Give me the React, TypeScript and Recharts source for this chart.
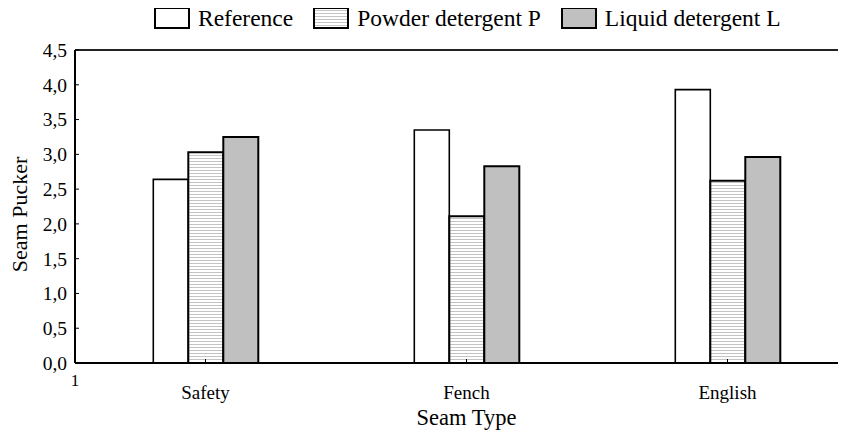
import React from 'react';
import { BarChart, Bar, XAxis, YAxis, Legend, Label } from 'recharts';

const categories = ['Safety', 'Fench', 'English'];
const referenceValues = [2.64, 3.35, 3.93];
const powderValues = [3.03, 2.11, 2.62];
const liquidValues = [3.25, 2.83, 2.96];
const yTicks = [0, 0.5, 1, 1.5, 2, 2.5, 3, 3.5, 4, 4.5];
const seriesNames = ['Reference', 'Powder detergent P', 'Liquid detergent L'];
const xAxisTitle = 'Seam Type';
const yAxisTitle = 'Seam Pucker';
const cornerTick = '1';

const data = categories.map((c, i) => ({
  seam: c,
  reference: referenceValues[i],
  powder: powderValues[i],
  liquid: liquidValues[i],
}));

const FONT = '"Liberation Serif", "Times New Roman", serif';

const swatchFills = ['#ffffff', 'url(#powderPatternLegend)', '#c0c0c0'];

const LegendContent = () => (
  <div
    style={{
      display: 'flex',
      alignItems: 'center',
      fontFamily: FONT,
      fontSize: 23.5,
      lineHeight: '22px',
      color: '#000',
      height: 22,
      whiteSpace: 'nowrap',
    }}
  >
    <svg width={0} height={0} style={{ position: 'absolute' }}>
      <defs>
        <pattern id="powderPatternLegend" width="4" height="3" patternUnits="userSpaceOnUse">
          <rect width="4" height="3" fill="#ffffff" />
          <rect width="4" height="1" fill="#c4c4c4" />
        </pattern>
      </defs>
    </svg>
    {seriesNames.map((name, i) => (
      <div key={name} style={{ display: 'flex', alignItems: 'center', marginRight: 20 }}>
        <svg width={36} height={22} style={{ display: 'block' }}>
          <rect x={1} y={1} width={34} height={20} fill={swatchFills[i]} stroke="#000" strokeWidth={2} />
        </svg>
        <span style={{ marginLeft: 8 }}>{name}</span>
      </div>
    ))}
  </div>
);

const XLabels = (props: any) => {
  const vb = props.viewBox || { x: 67, y: 355, width: 771, height: 67 };
  return (
    <g>
      <text x={vb.x} y={vb.y + 23} textAnchor="middle" fontSize={17} fontFamily={FONT} fill="#000">
        {cornerTick}
      </text>
      <text
        x={vb.x + (vb.width + 12) / 2}
        y={vb.y + 62}
        textAnchor="middle"
        fontSize={22.5}
        fontFamily={FONT}
        fill="#000"
      >
        {xAxisTitle}
      </text>
    </g>
  );
};

const YLabel = (props: any) => {
  const vb = props.viewBox || { x: 0, y: 42, width: 67, height: 313 };
  const cx = vb.x + 11;
  const cy = vb.y + vb.height / 2 + 8;
  return (
    <text
      x={cx}
      y={cy}
      transform={`rotate(-90 ${cx} ${cy})`}
      textAnchor="middle"
      dominantBaseline="central"
      fontSize={22}
      fontFamily={FONT}
      fill="#000"
    >
      {yAxisTitle}
    </text>
  );
};

export default function App() {
  return (
    <BarChart
      width={838}
      height={422}
      data={data}
      margin={{ top: 19, right: 0, bottom: 0, left: 0 }}
      barCategoryGap="30%"
      barGap={0}
    >
      <defs>
        <pattern id="powderPattern" width="4" height="3" patternUnits="userSpaceOnUse">
          <rect width="4" height="3" fill="#ffffff" />
          <rect width="4" height="1" fill="#c4c4c4" />
        </pattern>
      </defs>
      <Legend
        verticalAlign="top"
        align="left"
        content={<LegendContent />}
        wrapperStyle={{ top: -1, left: 146, width: 'auto', height: 22 }}
      />
      <XAxis
        xAxisId="top"
        orientation="top"
        dataKey="seam"
        height={1}
        padding={{ left: 0, right: -12 }}
        tick={false}
        tickSize={-4}
        axisLine={{ stroke: '#222', strokeWidth: 2 }}
        tickLine={{ stroke: '#000' }}
      />
      <XAxis
        dataKey="seam"
        height={67}
        padding={{ left: 0, right: -12 }}
        tickSize={-4}
        tickMargin={27}
        axisLine={{ stroke: '#000', strokeWidth: 2 }}
        tickLine={{ stroke: '#000' }}
        tick={{ fill: '#000', fontSize: 19, fontFamily: FONT }}
      >
        <Label content={<XLabels />} />
      </XAxis>
      <YAxis
        domain={[0, 4.5]}
        ticks={yTicks}
        interval={0}
        width={67}
        tickFormatter={(v: number) => v.toFixed(1).replace('.', ',')}
        tickSize={-4}
        tickMargin={12}
        axisLine={{ stroke: '#000', strokeWidth: 2 }}
        tickLine={{ stroke: '#000' }}
        tick={{ fill: '#000', fontSize: 19.5, fontFamily: FONT }}
      >
        <Label content={<YLabel />} />
      </YAxis>
      <Bar dataKey="reference" name={seriesNames[0]} fill="#ffffff" stroke="#000" strokeWidth={1.6} isAnimationActive={false} />
      <Bar dataKey="powder" name={seriesNames[1]} fill="url(#powderPattern)" stroke="#000" strokeWidth={2} isAnimationActive={false} />
      <Bar dataKey="liquid" name={seriesNames[2]} fill="#c0c0c0" stroke="#000" strokeWidth={2} isAnimationActive={false} />
    </BarChart>
  );
}
